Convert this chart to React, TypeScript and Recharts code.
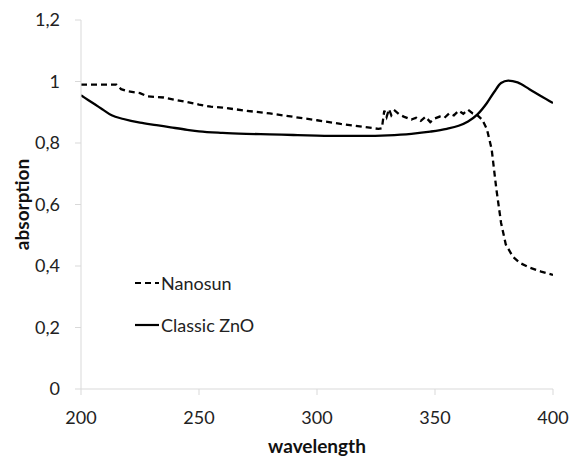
import React from 'react';
import { LineChart, Line, XAxis, YAxis, Legend, Label } from 'recharts';

// Nanosun (dashed) spectrum
const nanoWl = [
  200, 205, 210, 215, 217, 220, 225, 228, 235, 240, 245, 250, 255, 260, 265, 270, 280, 290, 300, 310,
  320, 326, 327.5, 328.5, 329.5, 330.5, 331.5, 333, 335, 337, 340, 342, 344, 346, 348, 350, 352, 354,
  356, 358, 360, 362, 364, 366, 368, 370, 372, 374, 376, 378, 380, 383, 386, 390, 395, 400,
];
const nanoAbs = [
  0.99, 0.99, 0.99, 0.99, 0.975, 0.968, 0.962, 0.952, 0.948, 0.94, 0.933, 0.925, 0.918, 0.915, 0.91,
  0.905, 0.896, 0.885, 0.874, 0.862, 0.852, 0.846, 0.848, 0.905, 0.885, 0.91, 0.89, 0.905, 0.892,
  0.885, 0.876, 0.882, 0.872, 0.885, 0.868, 0.88, 0.886, 0.882, 0.896, 0.89, 0.905, 0.895, 0.908,
  0.896, 0.89, 0.876, 0.845, 0.78, 0.65, 0.54, 0.47, 0.43, 0.41, 0.395, 0.382, 0.371,
];

// Classic ZnO (solid) spectrum
const znoWl = [
  200, 203, 206, 209, 213, 218, 225, 232, 238, 245, 250, 260, 270, 280, 290, 300, 310, 320, 330, 340,
  348, 355, 360, 364, 368, 372, 375, 378, 381, 385, 390, 395, 400,
];
const znoAbs = [
  0.955, 0.94, 0.925, 0.91, 0.89, 0.878, 0.866, 0.858, 0.851, 0.843, 0.838, 0.833, 0.83, 0.828, 0.826,
  0.824, 0.823, 0.823, 0.825, 0.83, 0.837, 0.846, 0.856, 0.87, 0.893, 0.93, 0.965, 0.995, 1.003,
  0.997, 0.975, 0.952, 0.93,
];

const xTicks = [200, 250, 300, 350, 400];
const yTicks = [0, 0.2, 0.4, 0.6, 0.8, 1, 1.2];
const legendOrder = ['Nanosun', 'Classic ZnO'];

const nanoData = nanoWl.map((wl, i) => ({ wl, abs: nanoAbs[i] }));
const znoData = znoWl.map((wl, i) => ({ wl, abs: znoAbs[i] }));

const font = 'Lato, "Open Sans", sans-serif';
const axisGrey = '#d9d9d9';

const renderLegend = (props: any) => {
  const items = [...(props.payload || [])].sort(
    (a: any, b: any) => legendOrder.indexOf(a.value) - legendOrder.indexOf(b.value)
  );
  return (
    <div style={{ fontFamily: font, fontSize: 18, color: '#222' }}>
      {items.map((p: any, i: number) => (
        <div key={i} style={{ display: 'flex', alignItems: 'center', height: 22, marginBottom: 20 }}>
          <svg width={24} height={6} style={{ marginRight: 2 }}>
            <line
              x1={0}
              y1={3}
              x2={24}
              y2={3}
              stroke="#000"
              strokeWidth={2.2}
              strokeDasharray={p.payload.strokeDasharray}
            />
          </svg>
          <span>{p.value}</span>
        </div>
      ))}
    </div>
  );
};

export default function App() {
  return (
    <div style={{ position: 'absolute', left: 0, top: 0, background: '#fff' }}>
      <LineChart width={571} height={457} margin={{ top: 20, right: 18, bottom: 0, left: 0 }}>
        <XAxis
          type="number"
          dataKey="wl"
          domain={[200, 400]}
          ticks={xTicks}
          allowDataOverflow
          height={68}
          stroke={axisGrey}
          tickSize={6}
          tickMargin={16}
          tick={{ fill: '#222', fontSize: 18, fontFamily: font }}
        >
          <Label
            value="wavelength"
            position="insideBottom"
            offset={4}
            style={{ fontFamily: font, fontSize: 19, fontWeight: 700, fill: '#111' }}
          />
        </XAxis>
        <YAxis
          type="number"
          domain={[0, 1.2]}
          ticks={yTicks}
          width={81}
          stroke={axisGrey}
          tickSize={6}
          tickMargin={15}
          tickFormatter={(v: number) => String(Math.round(v * 10) / 10).replace('.', ',')}
          tick={{ fill: '#222', fontSize: 18, fontFamily: font }}
        >
          <Label
            value="absorption"
            angle={-90}
            position="insideLeft"
            offset={22}
            style={{ fontFamily: font, fontSize: 19, fontWeight: 700, fill: '#111', textAnchor: 'middle' }}
          />
        </YAxis>
        <Legend
          layout="vertical"
          verticalAlign="middle"
          align="center"
          content={renderLegend}
          wrapperStyle={{ left: 135, top: 272, width: 170, height: 90 }}
        />
        <Line
          data={nanoData}
          dataKey="abs"
          name="Nanosun"
          type="linear"
          stroke="#000"
          strokeWidth={2.3}
          strokeDasharray="6 4"
          dot={false}
          isAnimationActive={false}
        />
        <Line
          data={znoData}
          dataKey="abs"
          name="Classic ZnO"
          type="monotone"
          stroke="#000"
          strokeWidth={2.3}
          dot={false}
          isAnimationActive={false}
        />
      </LineChart>
    </div>
  );
}
